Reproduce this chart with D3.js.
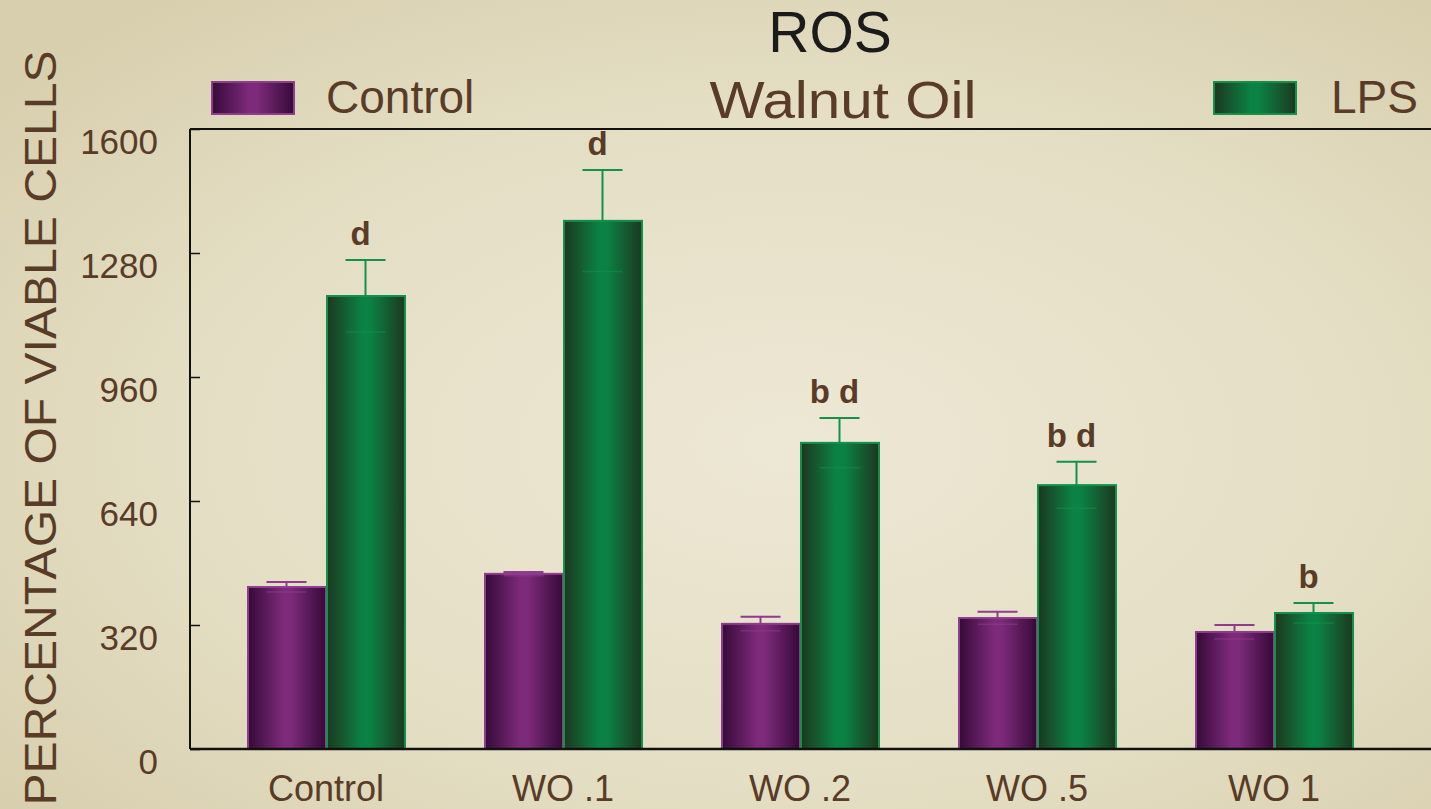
<!DOCTYPE html>
<html>
<head>
<meta charset="utf-8">
<script src="https://cdn.jsdelivr.net/npm/d3@7"></script>
<style>
  html, body { margin: 0; padding: 0; background: #e4dec5; }
  svg { display: block; }
</style>
</head>
<body>
<svg id="chart" width="1431" height="809"></svg>
<script>
// ---- data ----
const categories = ["Control", "WO .1", "WO .2", "WO .5", "WO 1"];
const seriesNames = ["Control", "LPS"];
const controlValues = [418, 452, 323, 338, 302];
const controlErrors = [13, 5, 18, 16, 18];
const lpsValues = [1169, 1363, 790, 681, 351];
const lpsErrors = [93, 131, 64, 60, 26];
const sigLetters = ["d", "d", "b d", "b d", "b"];
const yTicks = [0, 320, 640, 960, 1280, 1600];
const titleText = "ROS";
const subtitleText = "Walnut Oil";
const yAxisTitle = "PERCENTAGE OF VIABLE CELLS";

// ---- layout ----
const W = 1431, H = 809;
const plot = { left: 190, right: 1431, top: 129, bottom: 749 };
const brown = "#5a3b27";
const font = "'Liberation Sans', Arial, sans-serif";

const svg = d3.select("#chart");
const defs = svg.append("defs");

// background
const bg = defs.append("radialGradient").attr("id", "bg")
  .attr("cx", "55%").attr("cy", "55%").attr("r", "70%");
bg.append("stop").attr("offset", "0%").attr("stop-color", "#ede8d5");
bg.append("stop").attr("offset", "60%").attr("stop-color", "#e4dec4");
bg.append("stop").attr("offset", "100%").attr("stop-color", "#d8cfae");
svg.append("rect").attr("width", W).attr("height", H).attr("fill", "url(#bg)");

function barGrad(id, edge, mid) {
  const g = defs.append("linearGradient").attr("id", id)
    .attr("x1", "0%").attr("x2", "100%").attr("y1", "0%").attr("y2", "0%");
  g.append("stop").attr("offset", "0%").attr("stop-color", edge);
  g.append("stop").attr("offset", "45%").attr("stop-color", mid);
  g.append("stop").attr("offset", "55%").attr("stop-color", mid);
  g.append("stop").attr("offset", "100%").attr("stop-color", edge);
}
barGrad("gPurple", "#360a39", "#7d2a7a");
barGrad("gGreen", "#1d3820", "#0b8244");

const colors = {
  Control: { fill: "url(#gPurple)", stroke: "#8e3d8e", err: "#8e3d8e" },
  LPS: { fill: "url(#gGreen)", stroke: "#13904a", err: "#13904a" }
};

// scales
const x0 = d3.scaleBand().domain(categories)
  .range([207.5, 1392.5]).paddingInner(1 / 3).paddingOuter(1 / 6);
const x1 = d3.scaleBand().domain(seriesNames).range([0, x0.bandwidth()]);
const y = d3.scaleLinear().domain([0, 1600]).range([plot.bottom, plot.top]);

const rows = categories.map((c, i) => ({
  cat: c,
  bars: [
    { s: "Control", v: controlValues[i], e: controlErrors[i] },
    { s: "LPS", v: lpsValues[i], e: lpsErrors[i] }
  ],
  letter: sigLetters[i]
}));

// bars
const g = svg.append("g");
const grp = g.selectAll("g.grp").data(rows).join("g")
  .attr("transform", d => `translate(${x0(d.cat)},0)`);

grp.selectAll("rect.bar").data(d => d.bars).join("rect")
  .attr("class", "bar")
  .attr("x", d => x1(d.s) + 1)
  .attr("width", x1.bandwidth() - 1)
  .attr("y", d => y(d.v))
  .attr("height", d => y(0) - y(d.v))
  .attr("fill", d => colors[d.s].fill)
  .attr("stroke", d => colors[d.s].stroke)
  .attr("stroke-width", 2);

// error bars
const capW = 40;
grp.each(function (d) {
  const gg = d3.select(this);
  d.bars.forEach(b => {
    const cx = x1(b.s) + x1.bandwidth() / 2;
    const c = colors[b.s].err;
    gg.append("line").attr("x1", cx).attr("x2", cx)
      .attr("y1", y(b.v)).attr("y2", y(b.v + b.e))
      .attr("stroke", c).attr("stroke-width", 2);
    gg.append("line").attr("x1", cx - capW / 2).attr("x2", cx + capW / 2)
      .attr("y1", y(b.v + b.e)).attr("y2", y(b.v + b.e))
      .attr("stroke", c).attr("stroke-width", 2);
    gg.append("line").attr("x1", cx - capW / 2).attr("x2", cx + capW / 2)
      .attr("y1", y(b.v - b.e)).attr("y2", y(b.v - b.e))
      .attr("stroke", c).attr("stroke-width", 1.5).attr("opacity", 0.55);
  });
  // significance letters over LPS bar
  const lps = d.bars[1];
  gg.append("text")
    .attr("x", x1("LPS") + x1.bandwidth() / 2 - 5)
    .attr("y", y(lps.v + lps.e) - 15)
    .attr("text-anchor", "middle")
    .attr("font-family", font).attr("font-weight", "bold")
    .attr("font-size", 33).attr("fill", brown)
    .text(d.letter);
});

// axes frame
const axisG = svg.append("g");
axisG.append("line").attr("x1", plot.left).attr("x2", plot.right)
  .attr("y1", plot.top).attr("y2", plot.top).attr("stroke", "#111").attr("stroke-width", 2);
axisG.append("line").attr("x1", plot.left).attr("x2", plot.right)
  .attr("y1", plot.bottom).attr("y2", plot.bottom).attr("stroke", "#111").attr("stroke-width", 2.5);
axisG.append("line").attr("x1", plot.left).attr("x2", plot.left)
  .attr("y1", plot.top).attr("y2", plot.bottom).attr("stroke", "#111").attr("stroke-width", 2);

// y axis via d3.axisLeft (ticks inward)
const yAxis = d3.axisLeft(y).tickValues(yTicks).tickSizeInner(-10).tickSizeOuter(0).tickPadding(32)
  .tickFormat(d3.format("d"));
const ya = svg.append("g").attr("transform", `translate(${plot.left},0)`).call(yAxis);
ya.select(".domain").remove();
ya.selectAll(".tick line").attr("stroke", "#111").attr("stroke-width", 1.5);
ya.selectAll(".tick text")
  .attr("font-family", font).attr("font-size", 35).attr("fill", brown)
  .attr("dy", "0.69em");

// x axis labels
const xAxis = d3.axisBottom(x0).tickSize(0).tickPadding(26);
const xa = svg.append("g").attr("transform", `translate(0,${plot.bottom})`).call(xAxis);
xa.select(".domain").remove();
xa.selectAll(".tick text")
  .attr("font-family", font).attr("font-size", 36).attr("fill", brown);

// y axis title
svg.append("text")
  .attr("transform", "translate(56,428) rotate(-90)")
  .attr("text-anchor", "middle")
  .attr("font-family", font).attr("font-size", 45).attr("fill", brown)
  .attr("textLength", 755).attr("lengthAdjust", "spacingAndGlyphs")
  .text(yAxisTitle);

// titles
svg.append("text").attr("x", 830).attr("y", 52).attr("text-anchor", "middle")
  .attr("font-family", font).attr("font-size", 57).attr("fill", "#1b1b1b").text(titleText);
svg.append("text").attr("x", 843).attr("y", 118).attr("text-anchor", "middle")
  .attr("font-family", font).attr("font-size", 52).attr("fill", brown)
  .attr("textLength", 267).attr("lengthAdjust", "spacingAndGlyphs")
  .text(subtitleText);

// legend
const legendPos = [{ s: "Control", x: 212, tx: 326 }, { s: "LPS", x: 1214, tx: 1331 }];
legendPos.forEach(l => {
  svg.append("rect").attr("x", l.x).attr("y", 82).attr("width", 82).attr("height", 32)
    .attr("fill", colors[l.s].fill).attr("stroke", colors[l.s].stroke).attr("stroke-width", 2);
  svg.append("text").attr("x", l.tx).attr("y", 113)
    .attr("font-family", font).attr("font-size", 46).attr("fill", brown).text(l.s);
});
</script>
</body>
</html>
